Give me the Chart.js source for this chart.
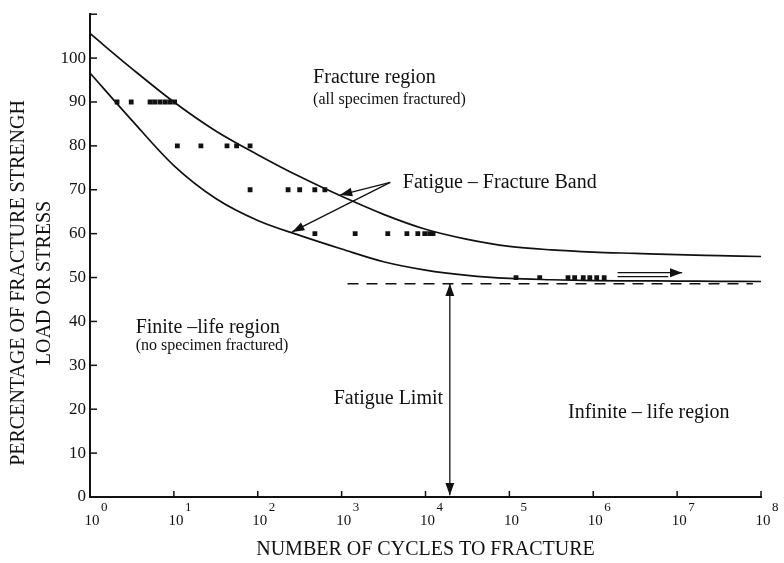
<!DOCTYPE html>
<html lang="en">
<head>
  <meta charset="UTF-8" />
  <title>Fatigue - Fracture Band</title>
  <script src="https://cdn.jsdelivr.net/npm/chart.js"></script>
  <style>
    html, body { margin: 0; padding: 0; background: #fff; }
    .chart-box { width: 784px; height: 563px; }
  </style>
</head>
<body>
  <div class="chart-box"><canvas id="fatigueChart"></canvas></div>

  <script>
    const decades = [0, 1, 2, 3, 4, 5, 6, 7, 8];
    const stressTicks = [0, 10, 20, 30, 40, 50, 60, 70, 80, 90, 100, 110];

    // band curves, half-decade steps (cycles -> % of fracture strength)
    const curveCycles = [1, 3.16, 10, 31.6, 100, 316, 1000, 3162, 1e4, 31623, 1e5, 316228, 1e6, 3162278, 1e7, 31622777, 1e8];
    const upperBand = [105.6, 97.6, 90, 83.4, 78, 73, 68.5, 64.4, 61, 58.7, 57.1, 56.3, 55.8, 55.5, 55.2, 55, 54.8];
    const lowerBand = [96.6, 85.8, 75.5, 68, 63, 59.6, 56.5, 53.6, 51.7, 50.5, 49.8, 49.5, 49.3, 49.25, 49.2, 49.15, 49.1];

    // test specimens, one row per load level
    const cycles90 = [2.1, 3.1, 5.2, 5.9, 6.8, 7.8, 8.9, 10.2];
    const cycles80 = [11, 21, 43, 56, 81];
    const cycles70 = [81, 230, 316, 479, 631];
    const cycles60 = [480, 1450, 3550, 6000, 8100, 9800, 11200, 12300];
    const cycles50 = [1.2e5, 2.3e5, 5e5, 6e5, 7.6e5, 9.1e5, 1.1e6, 1.35e6];

    const fatigueLimit = 48.6;
    const limitSpan = [1175, 8e7];
    const limitCycles = 19500;

    const serif = '"Liberation Serif", "DejaVu Serif", serif';
    const yTitle = ['PERCENTAGE OF FRACTURE STRENGH', 'LOAD OR STRESS'];

    const notes = [
      { text: 'Fracture region', x: 457, y: 95.5, size: 20, align: 'left' },
      { text: '(all specimen fractured)', x: 457, y: 90.5, size: 16, align: 'left' },
      { text: 'Fatigue \u2013 Fracture Band', x: 5370, y: 71.7, size: 20, align: 'left' },
      { text: 'Finite \u2013life region', x: 3.5, y: 38.5, size: 20, align: 'left' },
      { text: '(no specimen fractured)', x: 3.5, y: 34.4, size: 16, align: 'left' },
      { text: 'Fatigue Limit', x: 16200, y: 22.4, size: 20, align: 'right' },
      { text: 'Infinite \u2013 life region', x: 5e5, y: 19.2, size: 20, align: 'left' }
    ];

    // arrows: [from, to] in (cycles, %) ; both = head at both ends
    const arrows = [
      { from: [3800, 71.7], to: [955, 68.8] },
      { from: [3800, 71.7], to: [257, 60.4] },
      { from: [1.95e6, 51.1], to: [1.15e7, 51.1], open: true },
      { from: [limitCycles, 0.4], to: [limitCycles, fatigueLimit], both: true }
    ];

    function rows(xs, level) {
      return xs.map(x => ({ x: x, y: level }));
    }

    function arrowHead(ctx, x1, y1, x2, y2, len) {
      const a = Math.atan2(y2 - y1, x2 - x1);
      ctx.beginPath();
      ctx.moveTo(x2, y2);
      ctx.lineTo(x2 - len * Math.cos(a - 0.35), y2 - len * Math.sin(a - 0.35));
      ctx.lineTo(x2 - len * Math.cos(a + 0.35), y2 - len * Math.sin(a + 0.35));
      ctx.closePath();
      ctx.fill();
    }

    const figurePlugin = {
      id: 'figure',
      afterDraw(chart) {
        const { ctx, chartArea, scales: { x, y } } = chart;
        ctx.save();
        ctx.strokeStyle = '#111';
        ctx.fillStyle = '#111';
        ctx.lineWidth = 1.5;

        // inner tick marks
        stressTicks.slice(1).forEach(v => {
          const py = y.getPixelForValue(v);
          ctx.beginPath();
          ctx.moveTo(chartArea.left, py);
          ctx.lineTo(chartArea.left + 7, py);
          ctx.stroke();
        });
        decades.slice(1).forEach(d => {
          const px = x.getPixelForValue(Math.pow(10, d));
          ctx.beginPath();
          ctx.moveTo(px, chartArea.bottom);
          ctx.lineTo(px, chartArea.bottom - 6);
          ctx.stroke();
        });

        // x tick labels 10^n
        ctx.textBaseline = 'middle';
        decades.forEach(d => {
          const px = x.getPixelForValue(Math.pow(10, d));
          ctx.textAlign = 'center';
          ctx.font = '15px ' + serif;
          ctx.fillText('10', px + 2, chartArea.bottom + 24);
          ctx.textAlign = 'left';
          ctx.font = '13px ' + serif;
          ctx.fillText(String(d), px + 11, chartArea.bottom + 11);
        });

        // y title, two rotated lines sitting a little below the axis middle
        ctx.save();
        ctx.translate(19, 283);
        ctx.rotate(-Math.PI / 2);
        ctx.textAlign = 'center';
        ctx.font = '20px ' + serif;
        ctx.fillText(yTitle[0], 0, 0);
        ctx.fillText(yTitle[1], 0, 26);
        ctx.restore();

        // annotations
        notes.forEach(n => {
          ctx.font = n.size + 'px ' + serif;
          ctx.textAlign = n.align;
          ctx.fillText(n.text, x.getPixelForValue(n.x), y.getPixelForValue(n.y));
        });

        ctx.lineWidth = 1.3;
        arrows.forEach(a => {
          const x1 = x.getPixelForValue(a.from[0]), y1 = y.getPixelForValue(a.from[1]);
          const x2 = x.getPixelForValue(a.to[0]), y2 = y.getPixelForValue(a.to[1]);
          ctx.beginPath();
          ctx.moveTo(x1, y1);
          ctx.lineTo(x2, y2);
          if (a.open) {
            ctx.moveTo(x1, y1 + 4);
            ctx.lineTo(x2 - 14, y2 + 4);
          }
          ctx.stroke();
          arrowHead(ctx, x1, y1, x2, y2, 13);
          if (a.both) arrowHead(ctx, x2, y2, x1, y1, 13);
        });
        ctx.restore();
      }
    };

    const specimenStyle = {
      type: 'scatter',
      pointStyle: 'rect',
      pointRadius: 3.4,
      backgroundColor: '#111',
      borderColor: '#111',
      borderWidth: 0
    };

    const bandStyle = {
      type: 'line',
      borderColor: '#111',
      borderWidth: 1.7,
      pointRadius: 0,
      cubicInterpolationMode: 'monotone',
      fill: false
    };

    new Chart(document.getElementById('fatigueChart'), {
      data: {
        datasets: [
          { ...bandStyle, label: 'Upper bound', data: curveCycles.map((c, i) => ({ x: c, y: upperBand[i] })) },
          { ...bandStyle, label: 'Lower bound', data: curveCycles.map((c, i) => ({ x: c, y: lowerBand[i] })) },
          {
            type: 'line', label: 'Fatigue limit', borderColor: '#111', borderWidth: 1.4,
            borderDash: [11, 8], pointRadius: 0,
            data: limitSpan.map(c => ({ x: c, y: fatigueLimit }))
          },
          { ...specimenStyle, label: '90%', data: rows(cycles90, 90) },
          { ...specimenStyle, label: '80%', data: rows(cycles80, 80) },
          { ...specimenStyle, label: '70%', data: rows(cycles70, 70) },
          { ...specimenStyle, label: '60%', data: rows(cycles60, 60) },
          { ...specimenStyle, label: '50%', data: rows(cycles50, 50) }
        ]
      },
      options: {
        responsive: true,
        maintainAspectRatio: false,
        animation: false,
        layout: { padding: { left: 0, right: 23, top: 11, bottom: 0 } },
        plugins: { legend: { display: false }, tooltip: { enabled: false } },
        scales: {
          x: {
            type: 'logarithmic',
            min: 1,
            max: 1e8,
            afterBuildTicks: s => { s.ticks = decades.map(d => ({ value: Math.pow(10, d) })); },
            afterFit: s => { s.height = 66; },
            grid: { display: false },
            border: { display: true, color: '#111', width: 2 },
            ticks: { display: false },
            title: {
              display: true,
              text: 'NUMBER OF CYCLES TO FRACTURE',
              color: '#111',
              font: { family: serif, size: 20 },
              padding: { top: 0, bottom: 1 }
            }
          },
          y: {
            min: 0,
            max: 110,
            afterBuildTicks: s => { s.ticks = stressTicks.map(v => ({ value: v })); },
            afterFit: s => { s.width = 90; },
            grid: { display: false, drawTicks: false },
            border: { display: true, color: '#111', width: 2 },
            ticks: {
              color: '#111',
              padding: 4,
              font: { family: serif, size: 17 },
              callback: v => (v === 110 ? '' : v)
            },
            title: { display: false }
          }
        }
      },
      plugins: [figurePlugin]
    });
  </script>
</body>
</html>
